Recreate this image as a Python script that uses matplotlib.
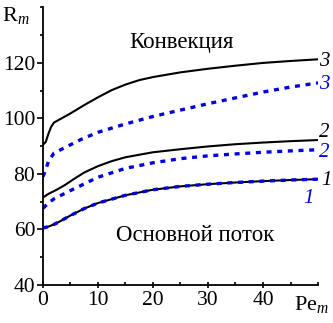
import matplotlib
matplotlib.use("Agg")
import matplotlib.pyplot as plt
import numpy as np

plt.rcParams["font.family"] = ["Liberation Serif", "DejaVu Serif"]
plt.rcParams["mathtext.fontset"] = "custom"
plt.rcParams["mathtext.rm"] = "Liberation Serif"
plt.rcParams["mathtext.it"] = "Liberation Serif:italic"

# curve 3 (upper)
pe3 = [0, 0.5, 1, 1.5, 2, 5, 7.5, 10, 12.5, 15, 17.5, 20, 25, 30, 35, 40, 45, 50]
r3 = [90.5, 91.5, 94.5, 97, 98.5, 101.8, 104.8, 107.6, 110.2, 112.2, 113.8, 114.9, 116.6, 117.9, 119, 120, 120.7, 121.3]
pe3b = [0, 0.5, 1, 2, 5, 7, 10, 15, 20, 25, 30, 35, 40, 45, 50]
r3b = [79, 81.5, 84.5, 87.5, 90.5, 92.5, 95, 98, 100.7, 103, 105.3, 107.4, 109.5, 111.3, 112.8]
# curve 2
pe2 = [0, 1, 2.5, 4, 5.5, 7.5, 10, 12.5, 15, 20, 25, 30, 35, 40, 45, 50]
r2 = [71.5, 72.8, 74.3, 76, 78, 80.5, 82.8, 84.6, 86, 87.8, 88.9, 89.9, 90.7, 91.3, 91.8, 92.2]
pe2b = [0, 1, 2, 5, 10, 15, 20, 25, 30, 35, 40, 45, 50]
r2b = [67.6, 69.5, 71, 74, 78.8, 82, 84, 85.5, 86.5, 87.2, 87.8, 88.3, 88.7]
# curve 1
pe1 = [0, 1, 2, 3, 5, 7.5, 10, 15, 20, 25, 30, 35, 40, 45, 50]
r1 = [60.5, 61, 61.8, 62.8, 65, 67.5, 69.5, 72.3, 74.3, 75.5, 76.3, 76.9, 77.4, 77.8, 78.1]
r1b = [60.5, 61, 61.8, 62.8, 65, 67.5, 69.5, 72.3, 74.3, 75.5, 76.3, 76.9, 77.4, 77.8, 78.1]

blue = "#0000e0"

fig = plt.figure(figsize=(3.33, 3.23), dpi=100)
ax = fig.add_axes([0.129, 0.118, 0.826, 0.859])

ax.plot(pe3, r3, color="black", lw=1.5)
ax.plot(pe2, r2, color="black", lw=1.5)
ax.plot(pe1, r1, color="black", lw=1.5)
for x, y in [(pe3b, r3b), (pe2b, r2b), (pe1, r1b)]:
    ax.plot(x, y, color=blue, lw=2.4, dashes=(1.5, 1.7), dash_capstyle="butt")

ax.set_xlim(0, 50)
ax.set_ylim(40, 140)
ax.set_xticks([0, 10, 20, 30, 40])
ax.set_yticks([40, 60, 80, 100, 120])
ax.set_xticks(np.arange(0, 51, 5), minor=True)
ax.set_yticks(np.arange(40, 141, 10), minor=True)
ax.spines["top"].set_visible(False)
ax.spines["right"].set_visible(False)
ax.spines["left"].set_linewidth(1.3)
ax.spines["bottom"].set_linewidth(1.3)
ax.tick_params(axis="y", which="major", direction="out", length=4.5, width=1.2, labelsize=15.5, pad=1)
ax.tick_params(axis="y", which="minor", direction="out", length=2.5, width=1.2)
ax.tick_params(axis="x", which="major", direction="inout", length=5, width=1.2, labelsize=15.5, pad=2)
ax.tick_params(axis="x", which="minor", direction="in", length=2.5, width=1.2)

fig.text(0.005, 0.935, r"R$_{\mathit{m}}$", fontsize=16)
fig.text(0.882, 0.04, r"Pe$_{\mathit{m}}$", fontsize=16)

ax.text(25.1, 127.3, "Конвекция", fontsize=16.5, ha="center", va="center")
ax.text(27.6, 57.7, "Основной поток", fontsize=16.5, ha="center", va="center")

lab = dict(fontsize=15, style="italic", ha="left", va="center")
ax.text(50.2, 120.6, "3", color="black", **lab)
ax.text(50.2, 112.2, "3", color=blue, **lab)
ax.text(50.2, 95, "2", color="black", **lab)
ax.text(50.2, 87.6, "2", color=blue, **lab)
ax.text(50.5, 77.6, "1", color="black", **lab)
ax.text(47.3, 71.2, "1", color=blue, **lab)

fig.savefig("out.png", dpi=100)
